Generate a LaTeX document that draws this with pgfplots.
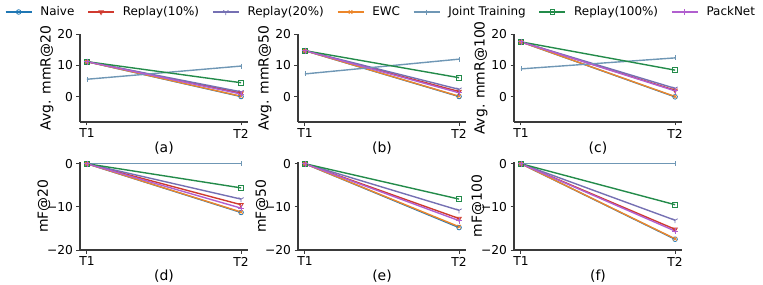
\documentclass[border=0pt]{standalone}
\usepackage{fontspec}
\setmainfont{DejaVu Sans}
\usepackage{pgfplots}
\usepackage{pgfplotstable}
\pgfplotsset{compat=1.18}
\usetikzlibrary{plotmarks}

\definecolor{cNaive}{HTML}{1F77B4}
\definecolor{cRten}{HTML}{D03A2F}
\definecolor{cRtwenty}{HTML}{7570B3}
\definecolor{cEWC}{HTML}{EC862A}
\definecolor{cJoint}{HTML}{6F97B5}
\definecolor{cRhundred}{HTML}{238B4A}
\definecolor{cPack}{HTML}{B15FCF}
\definecolor{spine}{HTML}{3A3A3A}

% x: 0 = T1, 1 = T2
\pgfplotstableread{
x naive rten rtwenty ewc joint rhundred pack
0 11.2 11.2 11.2 11.2 5.6 11.2 11.2
1 0.1 1.2 1.6 0.2 9.8 4.5 0.9
}\tabA
\pgfplotstableread{
x naive rten rtwenty ewc joint rhundred pack
0 14.7 14.7 14.7 14.7 7.3 14.7 14.7
1 0.1 1.7 2.4 0.2 12.0 6.1 1.3
}\tabB
\pgfplotstableread{
x naive rten rtwenty ewc joint rhundred pack
0 17.5 17.5 17.5 17.5 8.9 17.5 17.5
1 0.0 2.1 2.7 0.1 12.4 8.5 1.9
}\tabC
\pgfplotstableread{
x naive rten rtwenty ewc joint rhundred pack
0 0 0 0 0 0 0 0
1 -11.3 -9.5 -8.2 -11.2 0 -5.6 -10.3
}\tabD
\pgfplotstableread{
x naive rten rtwenty ewc rhundred pack
0 0 0 0 0 0 0
1 -14.8 -12.7 -10.8 -14.6 -8.2 -13.2
}\tabE
\pgfplotstableread{
x naive rten rtwenty ewc joint rhundred pack
0 0 0 0 0 0 0 0
1 -17.5 -15.2 -13.1 -17.4 0 -9.5 -15.6
}\tabF

\pgfplotsset{
  myax/.style={
    scale only axis, width=168bp, height=88bp,
    xmin=-0.045, xmax=1.045, xtick={0,1}, xticklabels={T1,T2},
    axis x line*=bottom, axis y line*=left,
    axis line style={spine, line width=1.1bp},
    tick style={spine, line width=1bp},
    tick align=outside, major tick length=3.5bp,
    tick label style={font=\fontsize{12.3}{14}\selectfont},
    label style={font=\fontsize{14}{16}\selectfont},
    xlabel style={yshift=3bp},
    every axis plot/.append style={line width=1.4bp},
    clip=false,
  },
  toprow/.style={myax, ymin=-8, ymax=20, ytick={0,10,20}, yticklabels={0,10,20},
    ylabel style={at={(axis description cs:-0.197,0.5)}, anchor=center}},
  botrow/.style={myax, ymin=-20, ymax=0.4, ytick={-20,-10,0}, yticklabels={−20,−10,0},
    ylabel style={at={(axis description cs:-0.215,0.5)}, anchor=center}},
  pnaive/.style={color=cNaive, mark=o, mark size=2.3bp, mark options={line width=0.8bp}},
  prten/.style={color=cRten, mark=triangle, mark size=2.6bp, mark options={rotate=180, line width=0.8bp}},
  prtwenty/.style={color=cRtwenty, mark=Mercedes star flipped, mark size=3bp, mark options={line width=0.8bp}},
  pewc/.style={color=cEWC, mark=x, mark size=2.5bp, mark options={line width=0.8bp}},
  pjoint/.style={color=cJoint, mark=|, mark size=2.5bp, mark options={line width=0.8bp}},
  prhundred/.style={color=cRhundred, mark=square, mark size=2.3bp, mark options={line width=0.8bp}},
  ppack/.style={color=cPack, mark=+, mark size=3bp, mark options={line width=0.8bp}},
}

\begin{document}
\begin{tikzpicture}
\path[use as bounding box] (0,0) rectangle (763bp,-285bp);

% (a)
\begin{axis}[toprow, at={(80bp,-34bp)}, anchor=north west, ylabel={Avg. mmR@20}, xlabel={(a)}]
\addplot[pnaive] table[x=x,y=naive] {\tabA};
\addplot[prten] table[x=x,y=rten] {\tabA};
\addplot[prtwenty] table[x=x,y=rtwenty] {\tabA};
\addplot[pewc] table[x=x,y=ewc] {\tabA};
\addplot[pjoint] table[x=x,y=joint] {\tabA};
\addplot[prhundred] table[x=x,y=rhundred] {\tabA};
\addplot[ppack] table[x=x,y=pack] {\tabA};
\end{axis}

% (b)
\begin{axis}[toprow, at={(298bp,-34bp)}, anchor=north west, ylabel={Avg. mmR@50}, xlabel={(b)},
  legend columns=7,
  legend style={at={(0.488,1.25)}, anchor=center, draw=none, fill=none, inner sep=0pt,
    font=\fontsize{12}{14}\selectfont, cells={anchor=west},
    nodes={inner sep=0pt, text depth=0.15em},
    /tikz/every odd column/.append style={column sep=8bp},
    /tikz/every even column/.append style={column sep=13bp}},
  legend image code/.code={\draw[mark repeat=2,mark phase=2,#1] plot coordinates {(0bp,0bp)(13bp,0bp)(26bp,0bp)};}]
\addplot[pnaive] table[x=x,y=naive] {\tabB};
\addplot[prten] table[x=x,y=rten] {\tabB};
\addplot[prtwenty] table[x=x,y=rtwenty] {\tabB};
\addplot[pewc] table[x=x,y=ewc] {\tabB};
\addplot[pjoint] table[x=x,y=joint] {\tabB};
\addplot[prhundred] table[x=x,y=rhundred] {\tabB};
\addplot[ppack] table[x=x,y=pack] {\tabB};
\legend{Naive,Replay(10\%),Replay(20\%),EWC,Joint Training,Replay(100\%),PackNet}
\end{axis}

% (c)
\begin{axis}[toprow, at={(514bp,-34bp)}, anchor=north west, ylabel={Avg. mmR@100}, xlabel={(c)}]
\addplot[pnaive] table[x=x,y=naive] {\tabC};
\addplot[prten] table[x=x,y=rten] {\tabC};
\addplot[prtwenty] table[x=x,y=rtwenty] {\tabC};
\addplot[pewc] table[x=x,y=ewc] {\tabC};
\addplot[pjoint] table[x=x,y=joint] {\tabC};
\addplot[prhundred] table[x=x,y=rhundred] {\tabC};
\addplot[ppack] table[x=x,y=pack] {\tabC};
\end{axis}

% (d)
\begin{axis}[botrow, at={(80bp,-162bp)}, anchor=north west, ylabel={mF@20}, xlabel={(d)}]
\addplot[pnaive] table[x=x,y=naive] {\tabD};
\addplot[prten] table[x=x,y=rten] {\tabD};
\addplot[prtwenty] table[x=x,y=rtwenty] {\tabD};
\addplot[pewc] table[x=x,y=ewc] {\tabD};
\addplot[pjoint] table[x=x,y=joint] {\tabD};
\addplot[prhundred] table[x=x,y=rhundred] {\tabD};
\addplot[ppack] table[x=x,y=pack] {\tabD};
\end{axis}

% (e)
\begin{axis}[botrow, at={(298bp,-162bp)}, anchor=north west, ylabel={mF@50}, xlabel={(e)}]
\addplot[pnaive] table[x=x,y=naive] {\tabE};
\addplot[prten] table[x=x,y=rten] {\tabE};
\addplot[prtwenty] table[x=x,y=rtwenty] {\tabE};
\addplot[pewc] table[x=x,y=ewc] {\tabE};
\addplot[prhundred] table[x=x,y=rhundred] {\tabE};
\addplot[ppack] table[x=x,y=pack] {\tabE};
\end{axis}

% (f)
\begin{axis}[botrow, at={(514bp,-162bp)}, anchor=north west, ylabel={mF@100}, xlabel={(f)}]
\addplot[pnaive] table[x=x,y=naive] {\tabF};
\addplot[prten] table[x=x,y=rten] {\tabF};
\addplot[prtwenty] table[x=x,y=rtwenty] {\tabF};
\addplot[pewc] table[x=x,y=ewc] {\tabF};
\addplot[pjoint] table[x=x,y=joint] {\tabF};
\addplot[prhundred] table[x=x,y=rhundred] {\tabF};
\addplot[ppack] table[x=x,y=pack] {\tabF};
\end{axis}
\end{tikzpicture}
\end{document}
